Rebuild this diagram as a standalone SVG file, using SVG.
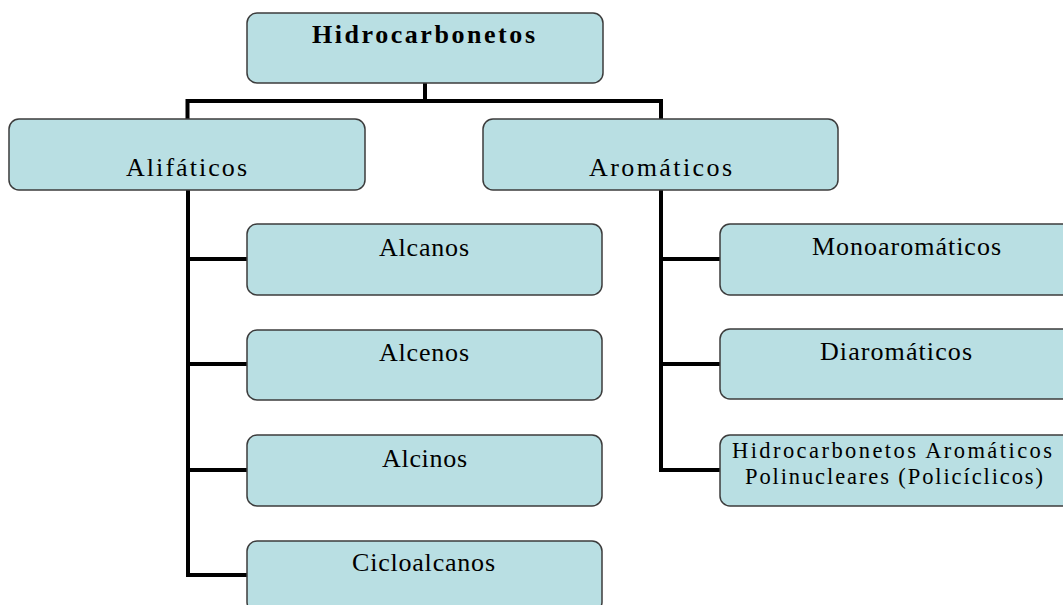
<svg xmlns="http://www.w3.org/2000/svg" width="1063" height="605" viewBox="0 0 1063 605">
<style>
.box{fill:#b9dfe3;stroke:#3c3c3c;stroke-width:1.5}
.t{font-family:"Liberation Serif","Times New Roman",serif;fill:#000;font-size:26px}
.s{font-size:22.5px}
.b{font-weight:bold}
.c{fill:none;stroke:#000;stroke-width:4;stroke-linejoin:miter}
</style>
<rect width="1063" height="605" fill="#fff"/>
<g id="connectors">
<path class="c" d="M425,83 V101 M187.5,101 H661 M187.5,99 V119 M661,99 V119"/>
<path class="c" d="M188,190 V575 H247 M188,259 H247 M188,364 H247 M188,470 H247"/>
<path class="c" d="M661,190 V470 H720 M661,259 H720 M661,364 H720"/>
</g>
<g id="hidrocarbonetos">
<rect class="box" x="247" y="13" width="356" height="70" rx="10"/>
<text class="t b" x="312" y="43" textLength="223" lengthAdjust="spacing">Hidrocarbonetos</text>
</g>
<g id="alifaticos">
<rect class="box" x="9" y="119" width="356" height="71" rx="10"/>
<text class="t" x="126" y="176" textLength="121" lengthAdjust="spacing">Alifáticos</text>
</g>
<g id="aromaticos">
<rect class="box" x="483" y="119" width="355" height="71" rx="10"/>
<text class="t" x="589" y="176" textLength="143" lengthAdjust="spacing">Aromáticos</text>
</g>
<g id="alcanos">
<rect class="box" x="247" y="224" width="355" height="71" rx="10"/>
<text class="t" x="379" y="256" textLength="90" lengthAdjust="spacing">Alcanos</text>
</g>
<g id="alcenos">
<rect class="box" x="247" y="330" width="355" height="70" rx="10"/>
<text class="t" x="379" y="361" textLength="90" lengthAdjust="spacing">Alcenos</text>
</g>
<g id="alcinos">
<rect class="box" x="247" y="435" width="355" height="71" rx="10"/>
<text class="t" x="382" y="467" textLength="85" lengthAdjust="spacing">Alcinos</text>
</g>
<g id="cicloalcanos">
<rect class="box" x="247" y="541" width="355" height="71" rx="10"/>
<text class="t" x="352" y="571" textLength="143" lengthAdjust="spacing">Cicloalcanos</text>
</g>
<g id="monoaromaticos">
<rect class="box" x="720" y="224" width="360" height="71" rx="10"/>
<text class="t" x="812" y="255" textLength="189" lengthAdjust="spacing">Monoaromáticos</text>
</g>
<g id="diaromaticos">
<rect class="box" x="720" y="329" width="360" height="70" rx="10"/>
<text class="t" x="820" y="360" textLength="152" lengthAdjust="spacing">Diaromáticos</text>
</g>
<g id="hpa">
<rect class="box" x="720" y="435" width="360" height="71" rx="10"/>
<text class="t s" x="732" y="458" textLength="320" lengthAdjust="spacing">Hidrocarbonetos Aromáticos</text>
<text class="t s" x="745" y="484" textLength="298" lengthAdjust="spacing">Polinucleares (Policíclicos)</text>
</g>
</svg>
